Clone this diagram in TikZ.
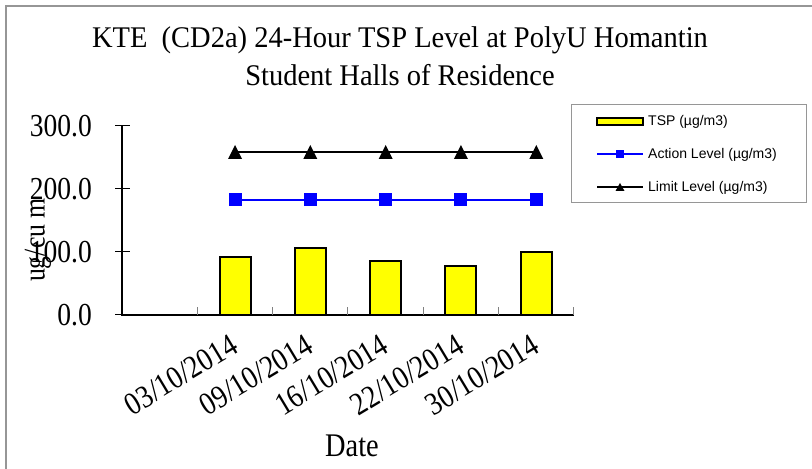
\documentclass[tikz,border=0pt]{standalone}
\usepackage{fontspec}
\setmainfont{Liberation Serif}
\newfontfamily\titlefont{Liberation Serif}[FakeStretch=0.95]
\newfontfamily\axisfont{Liberation Serif}[FakeStretch=0.86]
\newfontfamily\legfont{Liberation Sans}
\definecolor{framegray}{RGB}{150,150,150}
\definecolor{tspyellow}{RGB}{255,255,0}
\definecolor{actblue}{RGB}{0,0,255}
\begin{document}
\begin{tikzpicture}[x=1bp,y=-1bp,
  titletext/.style={inner sep=0pt, anchor=base, font=\titlefont\fontsize{30bp}{36bp}\selectfont},
  ticklabel/.style={inner sep=0pt, anchor=east, font=\axisfont\fontsize{32bp}{38bp}\selectfont},
  datelabel/.style={inner sep=0pt, anchor=north east, rotate=31, font=\axisfont\fontsize{32bp}{38bp}\selectfont},
  bar/.style={draw=black, line width=2bp, fill=tspyellow},
  actline/.style={draw=actblue, line width=2bp},
  limline/.style={draw=black, line width=2bp},
  sqmark/.style={fill=actblue, draw=none, minimum size=13bp, inner sep=0pt, rectangle},
  trimark/.style={fill=black},
  legtext/.style={inner sep=0pt, anchor=west, font=\legfont\fontsize{14bp}{17bp}\selectfont},
  minortick/.style={draw=gray, line width=1bp},
  majortick/.style={draw=black, line width=1bp}
]
\useasboundingbox (0,0) rectangle (812,469);
\fill[white] (0,0) rectangle (812,469);
% outer frame (left and top edges)
\draw[framegray, line width=2bp] (5.5,469) -- (5.5,6) -- (812,6);

% title
\node[titletext] (t1) at (400,48) {KTE\ \ (CD2a) 24-Hour TSP Level at PolyU Homantin};
\node[titletext] (t2) at (400,86) {Student Halls of Residence};

% axes
\coordinate (o) at (122,315);
\coordinate (ytop) at (122,126);
\coordinate (xend) at (574,315);
\draw[black, line width=1.5bp] (ytop) -- (o) -- (xend);
% y ticks and labels
\foreach \v/\lab in {0/0.0,100/100.0,200/200.0,300/300.0}{
  \draw[majortick] (115,315-0.63*\v) -- (130,315-0.63*\v);
  \node[ticklabel] (yl\v) at (92,315-0.63*\v) {\lab};
}
% x minor ticks
\foreach \k in {1,...,6}{
  \draw[minortick] (122+75.33*\k,315) -- (122+75.33*\k,307);
}
% y axis title
\node[inner sep=0pt, rotate=90, font=\axisfont\fontsize{30bp}{36bp}\selectfont] (ylab) at (38,240) {ug/cu m};

% bars
\foreach \k/\v in {1/92.5,2/105.8,3/86.2,4/78.3,5/100}{
  \draw[bar] (122+75.33*\k+37.67-15.5,315) rectangle (122+75.33*\k+37.67+15.5,315-0.63*\v);
}
% limit level
\foreach \k in {1,...,5}{ \coordinate (L\k) at (122+75.33*\k+37.67,152); }
\draw[limline] (L1) -- (L2) -- (L3) -- (L4) -- (L5);
\foreach \k in {1,...,5}{
  \fill[trimark] ([shift={(0,-7)}]L\k) -- ([shift={(7,7)}]L\k) -- ([shift={(-7,7)}]L\k) -- cycle;
}
% action level
\foreach \k in {1,...,5}{ \coordinate (A\k) at (122+75.33*\k+37.67,200); }
\draw[actline] (A1) -- (A2) -- (A3) -- (A4) -- (A5);
\foreach \k in {1,...,5}{ \node[sqmark] (As\k) at (A\k) {}; }

% date labels
\foreach \k/\d in {1/{03/10/2014},2/{09/10/2014},3/{16/10/2014},4/{22/10/2014},5/{30/10/2014}}{
  \node[datelabel] (d\k) at (122+75.33*\k+37.67-6,333) {\d};
}
\node[inner sep=0pt, anchor=base, font=\axisfont\fontsize{33bp}{40bp}\selectfont] (xlab) at (352,456) {Date};

% legend
\draw[framegray, line width=1bp] (571,105) rectangle (806,203);
\draw[bar] (597,118.5) rectangle (643,125.5);
\node[legtext] (lt1) at (648,122) {TSP (µg/m3)};
\coordinate (la1) at (597,154.5); \coordinate (la2) at (643,154.5);
\draw[actline] (la1) -- (la2);
\node[fill=actblue, minimum size=8bp, inner sep=0pt] (lam) at (620,154.5) {};
\node[legtext] (lt2) at (648,154.5) {Action Level (µg/m3)};
\coordinate (ll1) at (597,187.5); \coordinate (ll2) at (643,187.5);
\draw[limline] (ll1) -- (ll2);
\fill[trimark] (620,183) -- (624.5,191) -- (615.5,191) -- cycle;
\node[legtext] (lt3) at (648,187.5) {Limit Level (µg/m3)};
\end{tikzpicture}
\end{document}
